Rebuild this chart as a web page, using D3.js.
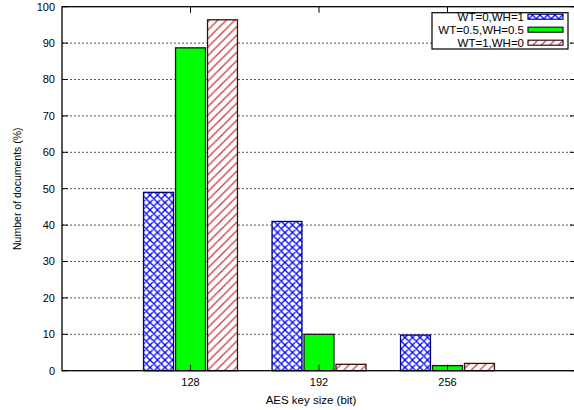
<!DOCTYPE html>
<html>
<head>
<meta charset="utf-8">
<script src="https://cdn.jsdelivr.net/npm/d3@7"></script>
<style>
  html, body { margin: 0; padding: 0; background: #fff; }
  svg { display: block; }
  text { font-family: "Liberation Sans", Arial, Helvetica, sans-serif; fill: #000; }
</style>
</head>
<body>
<svg id="chart" width="574" height="410"></svg>
<script>
// Share of documents per AES key size, for three weightings
const categories = ["128", "192", "256"];
const seriesNames = ["WT=0,WH=1", "WT=0.5,WH=0.5", "WT=1,WH=0"];
const wt0 = [49.0, 41.0, 9.8];
const wt05 = [88.7, 10.0, 1.4];
const wt1 = [96.4, 1.75, 2.0];
const yTicks = [0, 10, 20, 30, 40, 50, 60, 70, 80, 90, 100];

const series = [
  { name: seriesNames[0], values: wt0, fill: "url(#xhatch)", stroke: "#00007a" },
  { name: seriesNames[1], values: wt05, fill: "#00ff00", stroke: "#1a1a1a" },
  { name: seriesNames[2], values: wt1, fill: "url(#rhatch)", stroke: "#3a0f0f" }
];

const svg = d3.select("#chart");
const plotLeft = 62, plotRight = 576, plotTop = 6.7, plotBottom = 370.7;

// category slots sit at 1..n on a 0..n+1 axis
const x = d3.scaleLinear().domain([0, categories.length + 1]).range([plotLeft, plotRight]);
const y = d3.scaleLinear().domain([0, 100]).range([plotBottom, plotTop]);

const barW = 0.233, step = 0.249;

// fill patterns
const defs = svg.append("defs");
const xh = defs.append("pattern").attr("id", "xhatch")
  .attr("patternUnits", "userSpaceOnUse").attr("width", 7.5).attr("height", 7.5);
xh.append("rect").attr("width", 7.5).attr("height", 7.5).attr("fill", "#fff");
xh.append("path").attr("d", "M0,0L7.5,7.5M-1,6.5L1,8.5M6.5,-1L8.5,1M0,7.5L7.5,0M-1,1L1,-1M6.5,8.5L8.5,6.5")
  .attr("stroke", "#0000ff").attr("stroke-width", 1.3);
const rh = defs.append("pattern").attr("id", "rhatch")
  .attr("patternUnits", "userSpaceOnUse").attr("width", 8.5).attr("height", 8.5);
rh.append("rect").attr("width", 8.5).attr("height", 8.5).attr("fill", "#fff");
rh.append("path").attr("d", "M0,8.5L8.5,0M-2,2L2,-2M6.5,10.5L10.5,6.5")
  .attr("stroke", "#c83232").attr("stroke-width", 1.2);

// dotted grid
svg.append("g").selectAll("line").data(yTicks.slice(1, -1)).join("line")
  .attr("x1", plotLeft).attr("x2", plotRight)
  .attr("y1", d => y(d)).attr("y2", d => y(d))
  .attr("stroke", "#555").attr("stroke-width", 1)
  .attr("stroke-dasharray", "2,2");

// bars
series.forEach((s, j) => {
  svg.append("g").selectAll("rect").data(s.values).join("rect")
    .attr("x", (d, i) => x(i + 1 + (j - 1) * step - barW / 2))
    .attr("width", x(barW) - x(0))
    .attr("y", d => y(d))
    .attr("height", d => y(0) - y(d))
    .attr("fill", s.fill)
    .attr("stroke", s.stroke)
    .attr("stroke-width", 1.3);
});

// frame and ticks
const frame = svg.append("g").attr("stroke", "#000").attr("fill", "none");
frame.append("rect").attr("x", plotLeft).attr("y", plotTop)
  .attr("width", plotRight - plotLeft).attr("height", plotBottom - plotTop).attr("stroke-width", 1.3);

const tickLen = 6;
yTicks.forEach(t => {
  frame.append("line").attr("x1", plotLeft).attr("x2", plotLeft + tickLen)
    .attr("y1", y(t)).attr("y2", y(t)).attr("stroke-width", 1);
  frame.append("line").attr("x1", plotRight).attr("x2", plotRight - tickLen)
    .attr("y1", y(t)).attr("y2", y(t)).attr("stroke-width", 1);
});
categories.forEach((c, i) => {
  frame.append("line").attr("x1", x(i + 1)).attr("x2", x(i + 1))
    .attr("y1", plotBottom).attr("y2", plotBottom - tickLen).attr("stroke-width", 1);
  frame.append("line").attr("x1", x(i + 1)).attr("x2", x(i + 1))
    .attr("y1", plotTop).attr("y2", plotTop + tickLen).attr("stroke-width", 1);
});

// y tick labels
svg.append("g").selectAll("text").data(yTicks).join("text")
  .attr("x", 55).attr("y", d => y(d)).attr("dy", "0.35em")
  .attr("text-anchor", "end").attr("font-size", "11px")
  .text(d => d);

// x tick labels
svg.append("g").selectAll("text").data(categories).join("text")
  .attr("x", (d, i) => x(i + 1)).attr("y", 382.5).attr("dy", "0.35em")
  .attr("text-anchor", "middle").attr("font-size", "11px")
  .text(d => d);

// axis titles
svg.append("text").attr("x", (plotLeft + 568) / 2 - 4).attr("y", 400).attr("dy", "0.35em")
  .attr("text-anchor", "middle").attr("font-size", "11.5px")
  .text("AES key size (bit)");
svg.append("text")
  .attr("transform", `translate(17,${(plotTop + plotBottom) / 2}) rotate(-90)`)
  .attr("dy", "0.35em").attr("text-anchor", "middle").attr("font-size", "10.5px")
  .text("Number of documents (%)");

// legend
const lg = svg.append("g");
lg.append("rect").attr("x", 432).attr("y", 12.7).attr("width", 136).attr("height", 36.3)
  .attr("fill", "#fff").attr("stroke", "#000").attr("stroke-width", 1.2);
series.forEach((s, j) => {
  const cy = 16.7 + j * 13;
  lg.append("text").attr("x", 524).attr("y", cy).attr("dy", "0.35em")
    .attr("text-anchor", "end").attr("font-size", "11.5px").text(s.name);
  lg.append("rect").attr("x", 528).attr("y", cy - 2.5).attr("width", 35).attr("height", 5)
    .attr("fill", s.fill).attr("stroke", s.stroke).attr("stroke-width", 1.2);
});
</script>
</body>
</html>
